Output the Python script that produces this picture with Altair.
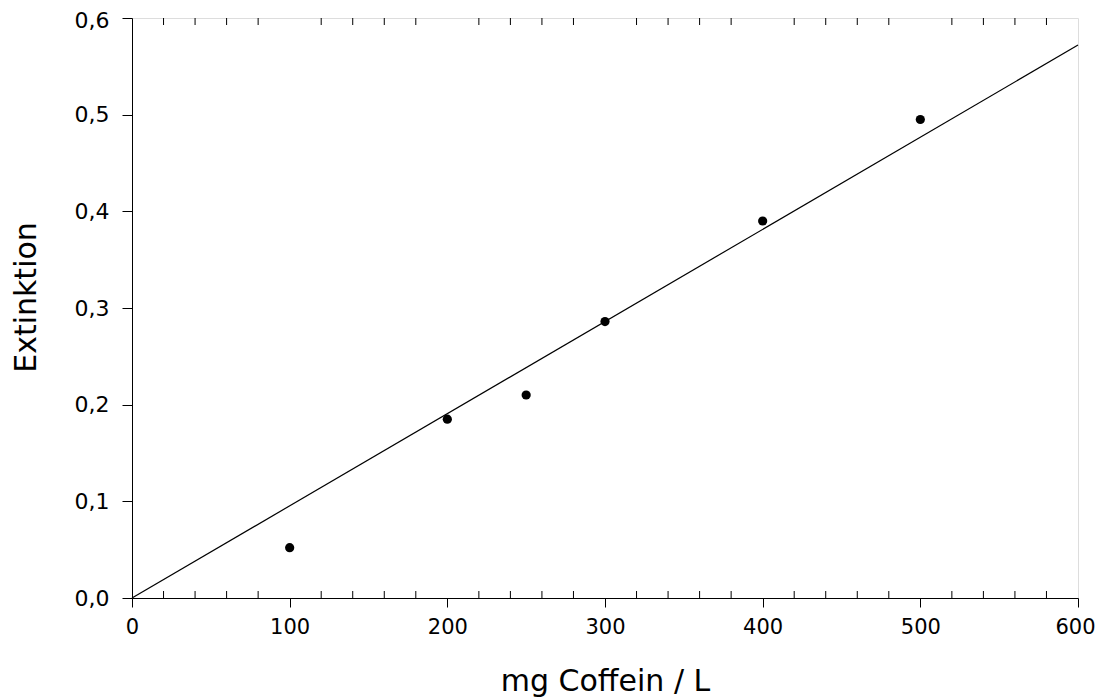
import altair as alt
import pandas as pd

# Data
conc = [100, 200, 250, 300, 400, 500]
ext = [0.052, 0.185, 0.210, 0.286, 0.390, 0.495]
fit_x = [0, 600]
fit_y = [0.0, 0.572]
x_ticks = [0, 100, 200, 300, 400, 500, 600]
y_ticks = [0.0, 0.1, 0.2, 0.3, 0.4, 0.5, 0.6]
minor_x = [v for v in range(20, 600, 20) if v % 100 != 0]

W, H = 946, 580
FONT = "DejaVu Sans"

pts = pd.DataFrame({"x": conc, "y": ext})
fit = pd.DataFrame({"x": fit_x, "y": fit_y})
minor = pd.DataFrame({"x": minor_x})

xscale = alt.Scale(domain=[0, 600], nice=False, zero=False)
yscale = alt.Scale(domain=[0, 0.6], nice=False, zero=False)

xaxis = alt.Axis(
    values=x_ticks, title="mg Coffein / L", grid=False,
    tickSize=9, tickColor="black", tickWidth=1, labelFlush=False,
    labelOffset={"condition": {"test": "datum.value == 600", "value": -3}, "value": 0},
    domainColor="black", labelColor="black", labelFont=FONT, labelFontSize=21,
    labelPadding=9, titleFont=FONT, titleFontSize=30, titleFontWeight="normal",
    titleColor="black", titleY=92, titleBaseline="alphabetic",
)
yaxis = alt.Axis(
    values=y_ticks, title="Extinktion", grid=False,
    tickSize=10, tickColor="black", tickWidth=1, labelFlush=False,
    labelOffset={"condition": {"test": "datum.value > 0.55", "value": 2}, "value": 0},
    domainColor="black", labelColor="black", labelFont=FONT, labelFontSize=22,
    labelPadding=13,
    labelExpr="replace(format(datum.value, '.1f'), '.', ',')",
    titleFont=FONT, titleFontSize=30, titleFontWeight="normal",
    titleColor="black", titleX=-97, titleY=279, titleBaseline="alphabetic",
)

line = alt.Chart(fit).mark_line(color="black", strokeWidth=1.2).encode(
    x=alt.X("x:Q", scale=xscale, axis=xaxis),
    y=alt.Y("y:Q", scale=yscale, axis=yaxis),
)

points = alt.Chart(pts).mark_circle(color="black", size=85, opacity=1).encode(
    x=alt.X("x:Q", scale=xscale),
    y=alt.Y("y:Q", scale=yscale),
)

minor_bottom = alt.Chart(minor).mark_rule(color="black", strokeWidth=1).encode(
    x=alt.X("x:Q", scale=xscale),
    y=alt.value(H),
    y2=alt.value(H - 7),
)
minor_top = alt.Chart(minor).mark_rule(color="black", strokeWidth=1).encode(
    x=alt.X("x:Q", scale=xscale),
    y=alt.value(0),
    y2=alt.value(7),
)

chart = alt.layer(line, points, minor_bottom, minor_top).properties(
    width=W, height=H,
    autosize=alt.AutoSizeParams(type="none"),
    padding={"left": 124, "top": 10, "right": 17, "bottom": 100},
).configure_view(stroke="black", strokeWidth=1).configure(background="white")

chart.save("out.html", embed_options={"renderer": "svg", "actions": False})
